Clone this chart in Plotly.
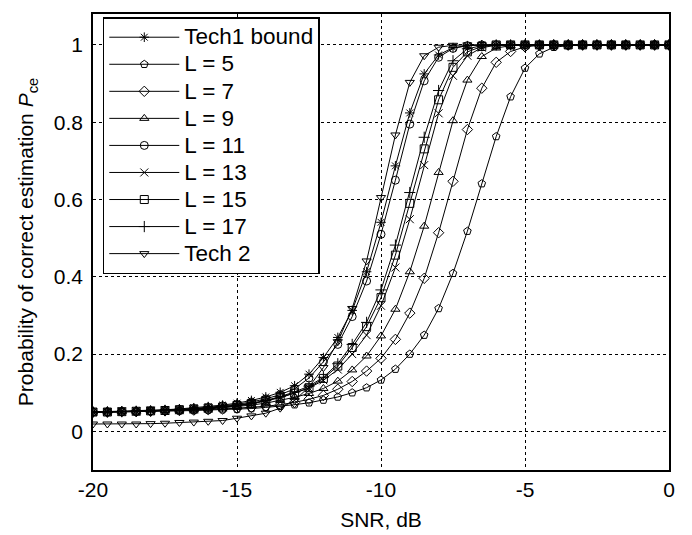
import numpy as np
import plotly.graph_objects as go

# SNR grid in dB
snr = np.arange(-20, 0.001, 0.5)

tech1_bound = [0.050, 0.051, 0.052, 0.053, 0.054, 0.056, 0.058, 0.061, 0.064, 0.068,
               0.073, 0.080, 0.089, 0.101, 0.118, 0.148, 0.191, 0.243, 0.313, 0.413,
               0.541, 0.687, 0.824, 0.925, 0.974, 0.993, 0.998, 1.000, 1.000, 1.000,
               1.000, 1.000, 1.000, 1.000, 1.000, 1.000, 1.000, 1.000, 1.000, 1.000, 1.000]
l5 = [0.050, 0.050, 0.051, 0.051, 0.052, 0.052, 0.053, 0.054, 0.055, 0.056,
      0.057, 0.059, 0.062, 0.065, 0.069, 0.074, 0.081, 0.089, 0.100, 0.113,
      0.133, 0.161, 0.200, 0.249, 0.318, 0.409, 0.518, 0.641, 0.763, 0.866,
      0.940, 0.977, 0.994, 0.998, 1.000, 1.000, 1.000, 1.000, 1.000, 1.000, 1.000]
l7 = [0.050, 0.050, 0.051, 0.051, 0.052, 0.053, 0.054, 0.055, 0.056, 0.058,
      0.060, 0.062, 0.065, 0.069, 0.075, 0.083, 0.093, 0.109, 0.129, 0.156,
      0.189, 0.238, 0.306, 0.396, 0.514, 0.647, 0.781, 0.888, 0.955, 0.983,
      0.995, 0.999, 1.000, 1.000, 1.000, 1.000, 1.000, 1.000, 1.000, 1.000, 1.000]
l9 = [0.050, 0.050, 0.051, 0.052, 0.053, 0.054, 0.055, 0.056, 0.058, 0.061,
      0.064, 0.068, 0.073, 0.080, 0.088, 0.098, 0.111, 0.130, 0.159, 0.195,
      0.247, 0.316, 0.413, 0.531, 0.670, 0.804, 0.909, 0.970, 0.992, 0.998,
      1.000, 1.000, 1.000, 1.000, 1.000, 1.000, 1.000, 1.000, 1.000, 1.000, 1.000]
l11 = [0.050, 0.050, 0.051, 0.052, 0.053, 0.055, 0.057, 0.059, 0.062, 0.066,
       0.070, 0.076, 0.084, 0.095, 0.110, 0.138, 0.180, 0.225, 0.297, 0.389,
       0.510, 0.650, 0.795, 0.907, 0.968, 0.991, 0.998, 1.000, 1.000, 1.000,
       1.000, 1.000, 1.000, 1.000, 1.000, 1.000, 1.000, 1.000, 1.000, 1.000, 1.000]
l13 = [0.050, 0.050, 0.051, 0.052, 0.053, 0.054, 0.055, 0.057, 0.059, 0.062,
       0.066, 0.071, 0.078, 0.087, 0.099, 0.112, 0.132, 0.160, 0.200, 0.249,
       0.325, 0.424, 0.549, 0.689, 0.823, 0.920, 0.972, 0.993, 0.999, 1.000,
       1.000, 1.000, 1.000, 1.000, 1.000, 1.000, 1.000, 1.000, 1.000, 1.000, 1.000]
l15 = [0.050, 0.050, 0.051, 0.052, 0.053, 0.054, 0.056, 0.058, 0.060, 0.063,
       0.067, 0.072, 0.079, 0.088, 0.099, 0.113, 0.137, 0.169, 0.217, 0.271,
       0.346, 0.456, 0.590, 0.731, 0.858, 0.942, 0.982, 0.996, 1.000, 1.000,
       1.000, 1.000, 1.000, 1.000, 1.000, 1.000, 1.000, 1.000, 1.000, 1.000, 1.000]
l17 = [0.050, 0.050, 0.051, 0.052, 0.053, 0.054, 0.056, 0.058, 0.061, 0.064,
       0.068, 0.073, 0.080, 0.090, 0.102, 0.117, 0.140, 0.175, 0.225, 0.282,
       0.366, 0.482, 0.618, 0.761, 0.882, 0.959, 0.990, 0.998, 1.000, 1.000,
       1.000, 1.000, 1.000, 1.000, 1.000, 1.000, 1.000, 1.000, 1.000, 1.000, 1.000]
tech2 = [0.019, 0.019, 0.019, 0.019, 0.020, 0.021, 0.023, 0.024, 0.026, 0.028,
         0.034, 0.040, 0.047, 0.060, 0.080, 0.115, 0.165, 0.232, 0.318, 0.441,
         0.605, 0.767, 0.903, 0.972, 0.994, 0.999, 1.000, 1.000, 1.000, 1.000,
         1.000, 1.000, 1.000, 1.000, 1.000, 1.000, 1.000, 1.000, 1.000, 1.000, 1.000]

series = [
    ("Tech1 bound", tech1_bound, "asterisk-open"),
    ("L = 5", l5, "pentagon-open"),
    ("L = 7", l7, "diamond-open"),
    ("L = 9", l9, "triangle-up-open"),
    ("L = 11", l11, "circle-open"),
    ("L = 13", l13, "x-thin-open"),
    ("L = 15", l15, "square-open"),
    ("L = 17", l17, "cross-thin-open"),
    ("Tech 2", tech2, "triangle-down-open"),
]

font_family = "Liberation Sans, Arial, sans-serif"
fs = 21

fig = go.Figure()
for name, vals, sym in series:
    fig.add_trace(go.Scatter(
        x=snr, y=vals, mode="lines+markers",
        # larger glyphs inside a tighter legend row
        name=f'<span style="font-size:22.5px">{name}</span>',
        line=dict(color="black", width=1),
        marker=dict(symbol=sym, size=8, color="black",
                    line=dict(color="black", width=1)),
    ))

axis_common = dict(
    showline=True, linecolor="black", linewidth=1.6, mirror=True,
    showgrid=True, gridcolor="black", griddash="dot", gridwidth=1,
    zeroline=False, ticks="", color="black", automargin=False,
    tickfont=dict(family=font_family, size=fs, color="black"),
)

fig.update_xaxes(range=[-20, 0], tickvals=[-20, -15, -10, -5, 0],
                 ticktext=["-20", "-15", "-10", "-5", "0"],
                 title=dict(text="SNR, dB", standoff=12,
                            font=dict(family=font_family, size=fs, color="black")),
                 **axis_common)
fig.update_yaxes(range=[-0.1, 1.08], tickvals=[0, 0.2, 0.4, 0.6, 0.8, 1],
                 ticktext=["0", "0.2", "0.4", "0.6", "0.8", "1"],
                 ticklabelstandoff=4,
                 title=dict(text="Probability of correct estimation <i>P</i><sub>ce</sub>",
                            standoff=14,
                            font=dict(family=font_family, size=fs, color="black")),
                 **axis_common)

fig.update_layout(
    width=692, height=535,
    margin=dict(l=93, r=23, t=14, b=65),
    paper_bgcolor="white", plot_bgcolor="white",
    font=dict(family=font_family, size=fs, color="black"),
    legend=dict(x=0.017, y=0.993, xanchor="left", yanchor="top",
                bgcolor="white", bordercolor="black", borderwidth=1.5,
                itemwidth=70,
                font=dict(family=font_family, size=18.5, color="black")),
    showlegend=True,
)

fig.write_html("out.html")
